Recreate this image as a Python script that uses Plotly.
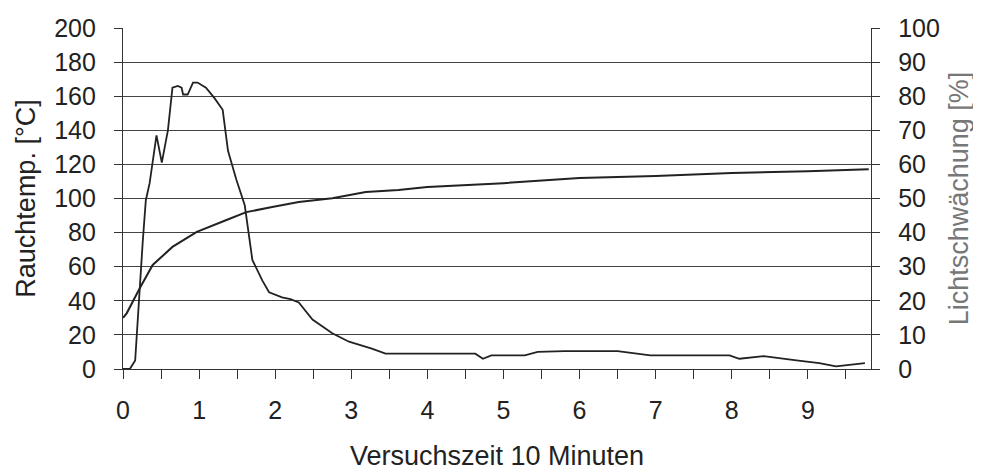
import plotly.graph_objects as go

# Rauchtemperatur [°C] (left axis)
temp_t = [0.0, 0.09, 0.16, 0.21, 0.26, 0.30, 0.35, 0.44, 0.51, 0.59, 0.65, 0.72, 0.77, 0.79, 0.85, 0.92, 0.98,
          1.09, 1.20, 1.31, 1.38, 1.49, 1.60, 1.70, 1.83, 1.92, 2.09, 2.20, 2.31, 2.49, 2.75, 2.97, 3.27,
          3.45, 3.8, 4.2, 4.63, 4.73, 4.84, 5.28, 5.45, 5.8, 6.15, 6.5, 6.93, 7.5, 7.97, 8.1, 8.42,
          8.85, 9.15, 9.37, 9.75]
temp_v = [0, 0, 5, 42, 75, 99, 109, 137, 121, 140, 165, 166, 165, 161, 161, 168, 168,
          165, 159, 152, 128, 111, 96, 64, 52, 45, 42, 41, 39, 29, 21, 16, 12,
          9, 9, 9, 9, 6, 8, 8, 10, 10.5, 10.5, 10.5, 8, 8, 8, 6, 7.5,
          5, 3.5, 1.5, 3.5]

# Lichtschwächung [%] (right axis)
licht_t = [0.0, 0.05, 0.22, 0.39, 0.65, 0.97, 1.36, 1.62, 1.96, 2.31, 2.75, 3.19, 3.62, 4.0, 5.0, 6.0,
           7.0, 8.0, 9.0, 9.8]
licht_v = [15, 16.4, 23.7, 30.5, 35.8, 40.2, 43.7, 46, 47.5, 49, 50.1, 51.9, 52.5, 53.4, 54.5, 56,
           56.6, 57.5, 58, 58.6]

x_ticks = [0, 1, 2, 3, 4, 5, 6, 7, 8, 9]
left_ticks = [0, 20, 40, 60, 80, 100, 120, 140, 160, 180, 200]
right_ticks = [0, 10, 20, 30, 40, 50, 60, 70, 80, 90, 100]

FONT = "Liberation Sans, Arial, sans-serif"
AX = "#333"

fig = go.Figure()
fig.add_trace(go.Scatter(x=temp_t, y=temp_v, mode="lines",
                         line=dict(color="#222", width=1.8), showlegend=False))
fig.add_trace(go.Scatter(x=licht_t, y=licht_v, mode="lines", yaxis="y2",
                         line=dict(color="#222", width=2.0), showlegend=False))

fig.update_layout(
    width=973, height=464,
    margin=dict(l=115, r=110, t=20, b=103, autoexpand=False),
    paper_bgcolor="white", plot_bgcolor="white",
    font=dict(family=FONT, size=25, color="#222"),
    xaxis=dict(range=[0, 9.83], tickvals=x_ticks, ticktext=[str(v) for v in x_ticks],
               showline=True, linecolor=AX, linewidth=1.3, automargin=False,
               ticks="outside", ticklen=9, tickcolor=AX,
               minor=dict(dtick=0.5, ticks="outside", ticklen=9, tickcolor=AX, showgrid=False),
               showgrid=False, zeroline=False, ticklabelstandoff=10,
               title=dict(text="Versuchszeit 10 Minuten", font=dict(size=27), standoff=22),
               tickfont=dict(size=25)),
    yaxis=dict(range=[0, 200], tickvals=left_ticks, automargin=False,
               showline=True, linecolor=AX, linewidth=1.3,
               ticks="outside", ticklen=8, tickcolor=AX, ticklabelstandoff=13,
               showgrid=True, gridcolor="#444", gridwidth=1.3, zeroline=False,
               title=dict(text="Rauchtemp. [°C]", font=dict(size=27), standoff=10),
               tickfont=dict(size=25)),
    yaxis2=dict(range=[0, 100], tickvals=right_ticks, overlaying="y", side="right",
                showline=True, linecolor=AX, linewidth=1.3, automargin=False,
                ticks="outside", ticklen=8, tickcolor=AX, ticklabelstandoff=13,
                showgrid=False, zeroline=False,
                title=dict(text="Lichtschwächung [%]", font=dict(size=27, color="#777"), standoff=10),
                tickfont=dict(size=25)),
)

fig.write_html("out.html")
